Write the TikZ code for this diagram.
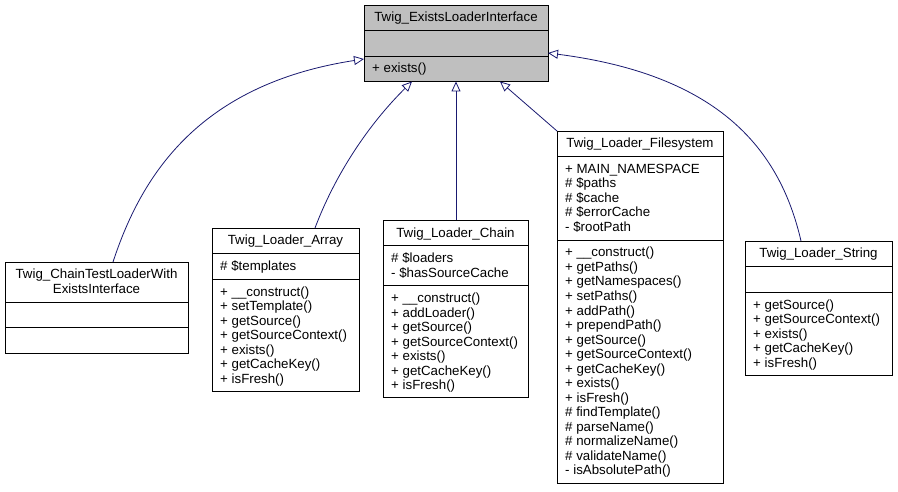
\documentclass[tikz,border=0pt]{standalone}
\usepackage{fontspec}
\setmainfont{Liberation Sans}
\usepackage{tikz}
\usetikzlibrary{arrows.meta}
\definecolor{edgeblue}{HTML}{191970}
\definecolor{ifacegray}{HTML}{BFBFBF}

\begin{document}
\begin{tikzpicture}
	[
	x=1pt, y=-1pt,
	every node/.style={font=\fontsize{13.3}{14.5}\selectfont},
	> = {Triangle[open,length=10pt,width=9pt]},
	cls/.style = {draw=black, line width=0.8pt, fill=white, inner sep=0pt, outer sep=0pt, anchor=north west},
	iface/.style = {cls, fill=ifacegray},
	part/.style = {draw=black, line width=0.8pt},
	title/.style = {anchor=base, inner sep=0pt},
	member/.style = {anchor=base west, inner sep=0pt},
	inherit/.style = {->, draw=edgeblue, line width=0.8pt}
	]
	\useasboundingbox (0,0) rectangle (898,492);

	% the interface
	\node[iface, minimum width=184pt, minimum height=76.5pt] (iface) at (364,5) {};
	\draw[part] (iface.west |- 0,30.5) -- (iface.east |- 0,30.5);
	\draw[part] (iface.west |- 0,56) -- (iface.east |- 0,56);
	\node[title] (iface-t) at (iface.north |- 0,22) {Twig\_ExistsLoaderInterface};
	\node[member] (iface-m0) at (372,73) {+ exists()};

	% test loader
	\node[cls, minimum width=183pt, minimum height=91pt] (chaintest) at (5,262) {};
	\draw[part] (chaintest.west |- 0,302) -- (chaintest.east |- 0,302);
	\draw[part] (chaintest.west |- 0,327.5) -- (chaintest.east |- 0,327.5);
	\node[title] (chaintest-t0) at (chaintest.north |- 0,279) {Twig\_ChainTestLoaderWith};
	\node[title] (chaintest-t1) at (chaintest.north |- 0,293.5) {ExistsInterface};

	% array loader
	\node[cls, minimum width=147pt, minimum height=163pt] (array) at (212,228) {};
	\draw[part] (array.west |- 0,253.5) -- (array.east |- 0,253.5);
	\draw[part] (array.west |- 0,279) -- (array.east |- 0,279);
	\node[title] (array-t) at (array.north |- 0,245) {Twig\_Loader\_Array};
	\node[member] (array-a0) at (220,270.5) {\# \$templates};
	\foreach \m [count=\i from 0] in {+ \_\_construct(), + setTemplate(), + getSource(),
		+ getSourceContext(), + exists(), + getCacheKey(), + isFresh()}
		\node[member] (array-m\i) at (220,296+14.5*\i) {\m};

	% chain loader
	\node[cls, minimum width=145pt, minimum height=177.5pt] (chain) at (383,220) {};
	\draw[part] (chain.west |- 0,245.5) -- (chain.east |- 0,245.5);
	\draw[part] (chain.west |- 0,285.5) -- (chain.east |- 0,285.5);
	\node[title] (chain-t) at (chain.north |- 0,237) {Twig\_Loader\_Chain};
	\foreach \m [count=\i from 0] in {\# \$loaders, - \$hasSourceCache}
		\node[member] (chain-a\i) at (391,262.5+14.5*\i) {\m};
	\foreach \m [count=\i from 0] in {+ \_\_construct(), + addLoader(), + getSource(),
		+ getSourceContext(), + exists(), + getCacheKey(), + isFresh()}
		\node[member] (chain-m\i) at (391,302.5+14.5*\i) {\m};

	% filesystem loader
	\node[cls, minimum width=166pt, minimum height=352pt] (fs) at (557,131) {};
	\draw[part] (fs.west |- 0,156.5) -- (fs.east |- 0,156.5);
	\draw[part] (fs.west |- 0,240) -- (fs.east |- 0,240);
	\node[title] (fs-t) at (fs.north |- 0,148) {Twig\_Loader\_Filesystem};
	\foreach \m [count=\i from 0] in {+ MAIN\_NAMESPACE, \# \$paths, \# \$cache,
		\# \$errorCache, - \$rootPath}
		\node[member] (fs-a\i) at (565,173.5+14.5*\i) {\m};
	\foreach \m [count=\i from 0] in {+ \_\_construct(), + getPaths(), + getNamespaces(),
		+ setPaths(), + addPath(), + prependPath(), + getSource(), + getSourceContext(),
		+ getCacheKey(), + exists(), + isFresh(), \# findTemplate(), \# parseName(),
		\# normalizeName(), \# validateName(), - isAbsolutePath()}
		\node[member] (fs-m\i) at (565,257+14.5*\i) {\m};

	% string loader
	\node[cls, minimum width=147pt, minimum height=134.5pt] (string) at (745,241) {};
	\draw[part] (string.west |- 0,266.5) -- (string.east |- 0,266.5);
	\draw[part] (string.west |- 0,292) -- (string.east |- 0,292);
	\node[title] (string-t) at (string.north |- 0,258) {Twig\_Loader\_String};
	\foreach \m [count=\i from 0] in {+ getSource(), + getSourceContext(), + exists(),
		+ getCacheKey(), + isFresh()}
		\node[member] (string-m\i) at (753,309+14.5*\i) {\m};

	% inheritance
	\draw[inherit] (chaintest.north -| 113,0) .. controls (140,180) and (195,85) .. (iface.west |- 0,59);
	\draw[inherit] (array.north -| 315,0) .. controls (335,175) and (368,125) .. (iface.south -| 412,0);
	\draw[inherit] (chain.north -| iface.south) -- (iface.south);
	\draw[inherit] (fs.north west) -- (iface.south -| 500,0);
	\draw[inherit] (string.north -| 801,0) .. controls (780,150) and (720,75) .. (iface.east |- 0,53);
\end{tikzpicture}
\end{document}
